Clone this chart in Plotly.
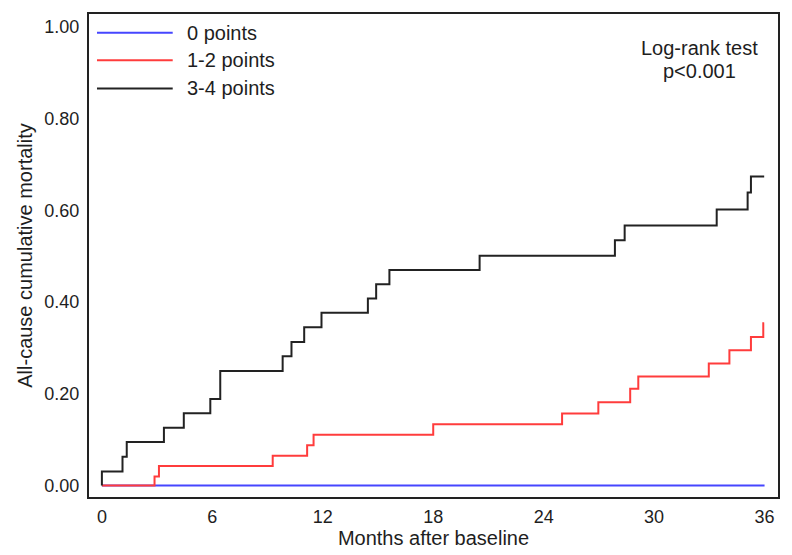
import plotly.graph_objects as go

# Step-curve data (months, cumulative mortality)
t_0pts = [0, 36]
y_0pts = [0.0, 0.0]

t_12pts = [0, 2.86, 3.10, 9.28, 11.15, 11.50, 18.0, 25.0, 26.97, 28.70, 29.14, 32.97, 34.09, 35.26, 35.93, 35.98]
y_12pts = [0.0, 0.020, 0.043, 0.065, 0.088, 0.111, 0.134, 0.157, 0.182, 0.211, 0.238, 0.266, 0.295, 0.324, 0.354, 0.354]

t_34pts = [0, 0, 1.12, 1.35, 3.37, 4.45, 5.89, 6.43, 9.82, 10.30, 10.99, 11.93, 14.45, 14.90, 15.62, 20.52, 27.87, 28.40, 33.40, 35.08, 35.26, 35.98]
y_34pts = [0.0, 0.031, 0.063, 0.095, 0.126, 0.158, 0.189, 0.250, 0.282, 0.313, 0.345, 0.377, 0.408, 0.439, 0.470, 0.501, 0.535, 0.567, 0.602, 0.639, 0.674, 0.674]

series_names = ["0 points", "1-2 points", "3-4 points"]
series_colors = ["#4646ff", "#ff3c3c", "#222222"]

x_ticks = [0, 6, 12, 18, 24, 30, 36]
y_ticks = [0.0, 0.2, 0.4, 0.6, 0.8, 1.0]
y_tick_labels = ["0.00", "0.20", "0.40", "0.60", "0.80", "1.00"]

FONT = "Arial, Liberation Sans, sans-serif"
TXT = "#1e1e1e"

fig = go.Figure()
for t, y, name, col in zip([t_0pts, t_12pts, t_34pts], [y_0pts, y_12pts, y_34pts], series_names, series_colors):
    fig.add_trace(go.Scatter(x=t, y=y, mode="lines", name=name,
                             line=dict(color=col, width=2, shape="hv"),
                             showlegend=False))

# manual legend (long line samples as in the reference)
leg_y = [0.961, 0.904, 0.846]
for name, col, yy in zip(series_names, series_colors, leg_y):
    fig.add_shape(type="line", xref="paper", yref="paper",
                  x0=0.0116, x1=0.1215, y0=yy, y1=yy,
                  line=dict(color=col, width=2))
    fig.add_annotation(xref="paper", yref="paper", x=0.140, y=yy,
                       text=name, showarrow=False, xanchor="left", yanchor="middle",
                       font=dict(family=FONT, size=20, color=TXT))

fig.add_annotation(xref="paper", yref="paper", x=0.886, y=0.930, text="Log-rank test",
                   showarrow=False, xanchor="center", yanchor="middle",
                   font=dict(family=FONT, size=20, color=TXT))
fig.add_annotation(xref="paper", yref="paper", x=0.886, y=0.881, text="p<0.001",
                   showarrow=False, xanchor="center", yanchor="middle",
                   font=dict(family=FONT, size=20, color=TXT))

fig.update_layout(
    width=792, height=555,
    margin=dict(l=89, r=12, t=14, b=53),
    plot_bgcolor="white", paper_bgcolor="white",
    font=dict(family=FONT, size=18, color=TXT),
    xaxis=dict(range=[-0.70, 36.73], tickvals=x_ticks, ticktext=[str(v) for v in x_ticks],
               showgrid=False, zeroline=False, showline=True, linecolor="#222222",
               linewidth=2, mirror=True, ticks="outside", ticklen=2,
               tickcolor="rgba(0,0,0,0)", tickfont=dict(family=FONT, size=18, color=TXT),
               title=dict(text="Months after baseline", standoff=2,
                          font=dict(family=FONT, size=20, color=TXT))),
    yaxis=dict(range=[-0.0248, 1.028], tickvals=y_ticks, ticktext=y_tick_labels,
               showgrid=False, zeroline=False, showline=True, linecolor="#222222",
               linewidth=2, mirror=True, ticks="outside", ticklen=4,
               tickcolor="rgba(0,0,0,0)", tickfont=dict(family=FONT, size=18, color=TXT),
               title=dict(text="All-cause cumulative mortality", standoff=6,
                          font=dict(family=FONT, size=20, color=TXT))),
)

fig.write_html("out.html")
